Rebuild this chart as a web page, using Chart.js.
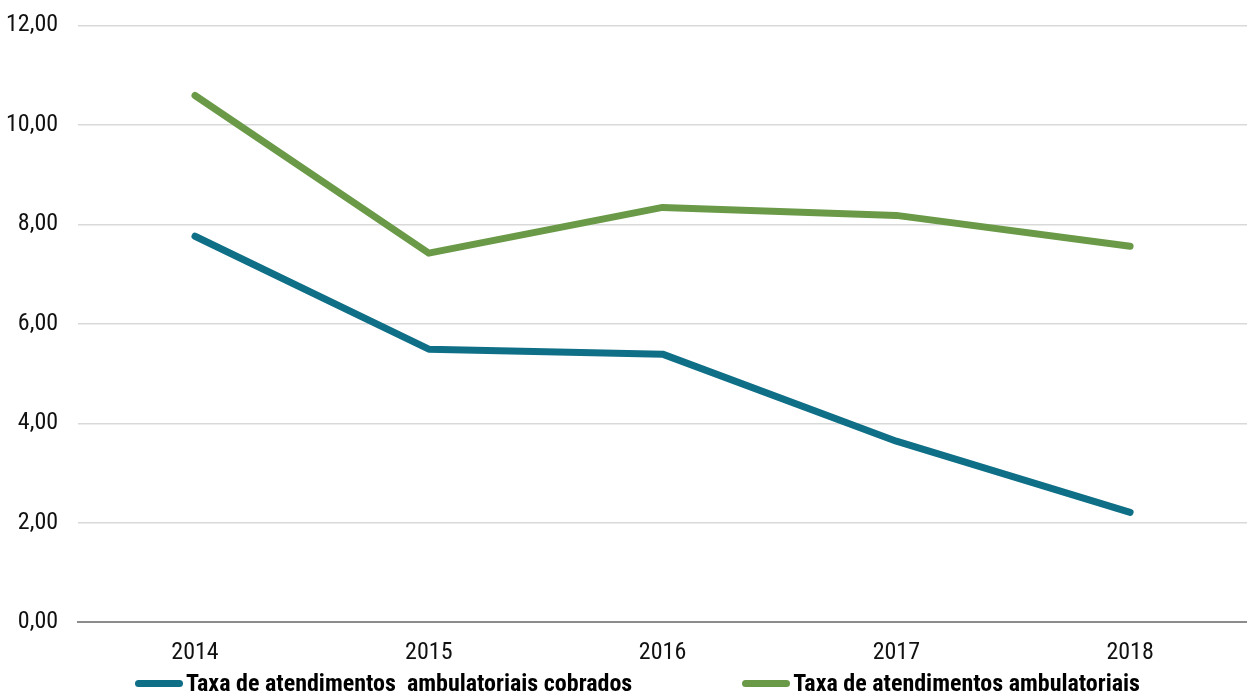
<!DOCTYPE html>
<html>
<head>
<meta charset="utf-8">
<script src="https://cdn.jsdelivr.net/npm/chart.js@4"></script>
<style>
html,body{margin:0;padding:0;background:#fff;overflow:hidden;}
#wrap{width:1247px;height:693px;position:relative;overflow:hidden;}
#box{position:absolute;left:0;top:-9px;width:1247px;height:702px;}
#legend{position:absolute;left:135px;top:670px;height:26px;display:flex;align-items:center;
  font-family:'Liberation Sans Narrow','Roboto Condensed','Arial Narrow',sans-serif;font-weight:bold;font-size:24px;color:#000;white-space:pre;}
.item{display:flex;align-items:center;}
.sw{width:48px;height:7px;border-radius:4px;margin-right:3px;}
</style>
</head>
<body>
<div id="wrap"><div id="box"><canvas id="c"></canvas></div><div id="legend"></div></div>
<script>
const categories = ["2014", "2015", "2016", "2017", "2018"];
const cobrados = [7.76, 5.49, 5.39, 3.64, 2.21];
const ambulatoriais = [10.59, 7.42, 8.34, 8.18, 7.56];
const seriesNames = ["Taxa de atendimentos  ambulatoriais cobrados", "Taxa de atendimentos ambulatoriais"];
const seriesColors = ['#0f6f86', '#6a9a48'];
const FONT = "'Liberation Sans Narrow', 'Roboto Condensed', 'Arial Narrow', sans-serif";

const chart = new Chart(document.getElementById('c'), {
  type: 'line',
  data: {
    labels: categories,
    datasets: [
      { label: seriesNames[0], data: cobrados, borderColor: seriesColors[0], backgroundColor: seriesColors[0], borderWidth: 7, pointRadius: 0, tension: 0, borderCapStyle: 'round', borderJoinStyle: 'round' },
      { label: seriesNames[1], data: ambulatoriais, borderColor: seriesColors[1], backgroundColor: seriesColors[1], borderWidth: 7, pointRadius: 0, tension: 0, borderCapStyle: 'round', borderJoinStyle: 'round' }
    ]
  },
  options: {
    responsive: true,
    maintainAspectRatio: false,
    animation: false,
    layout: { padding: { top: 2, left: -14, right: 0, bottom: 18 } },
    scales: {
      x: {
        offset: true,
        grid: { display: false },
        border: { color: '#8c8c8c', width: 2 },
        ticks: { color: '#111', font: { family: FONT, size: 24 }, padding: 8 }
      },
      y: {
        min: 0, max: 12,
        ticks: {
          stepSize: 2, color: '#111', padding: 20,
          font: { family: FONT, size: 24 },
          callback: v => v.toFixed(2).replace('.', ',')
        },
        grid: { color: '#d9d9d9', lineWidth: 1.5, drawTicks: false },
        border: { display: false }
      }
    },
    plugins: {
      legend: { display: false },
      tooltip: { enabled: false }
    }
  }
});

const leg = document.getElementById('legend');
chart.data.datasets.forEach((ds, i) => {
  const it = document.createElement('div');
  it.className = 'item';
  if (i > 0) it.style.marginLeft = '110px';
  const sw = document.createElement('span');
  sw.className = 'sw';
  sw.style.background = ds.borderColor;
  const tx = document.createElement('span');
  tx.textContent = ds.label;
  it.appendChild(sw); it.appendChild(tx);
  leg.appendChild(it);
});
</script>
</body>
</html>
